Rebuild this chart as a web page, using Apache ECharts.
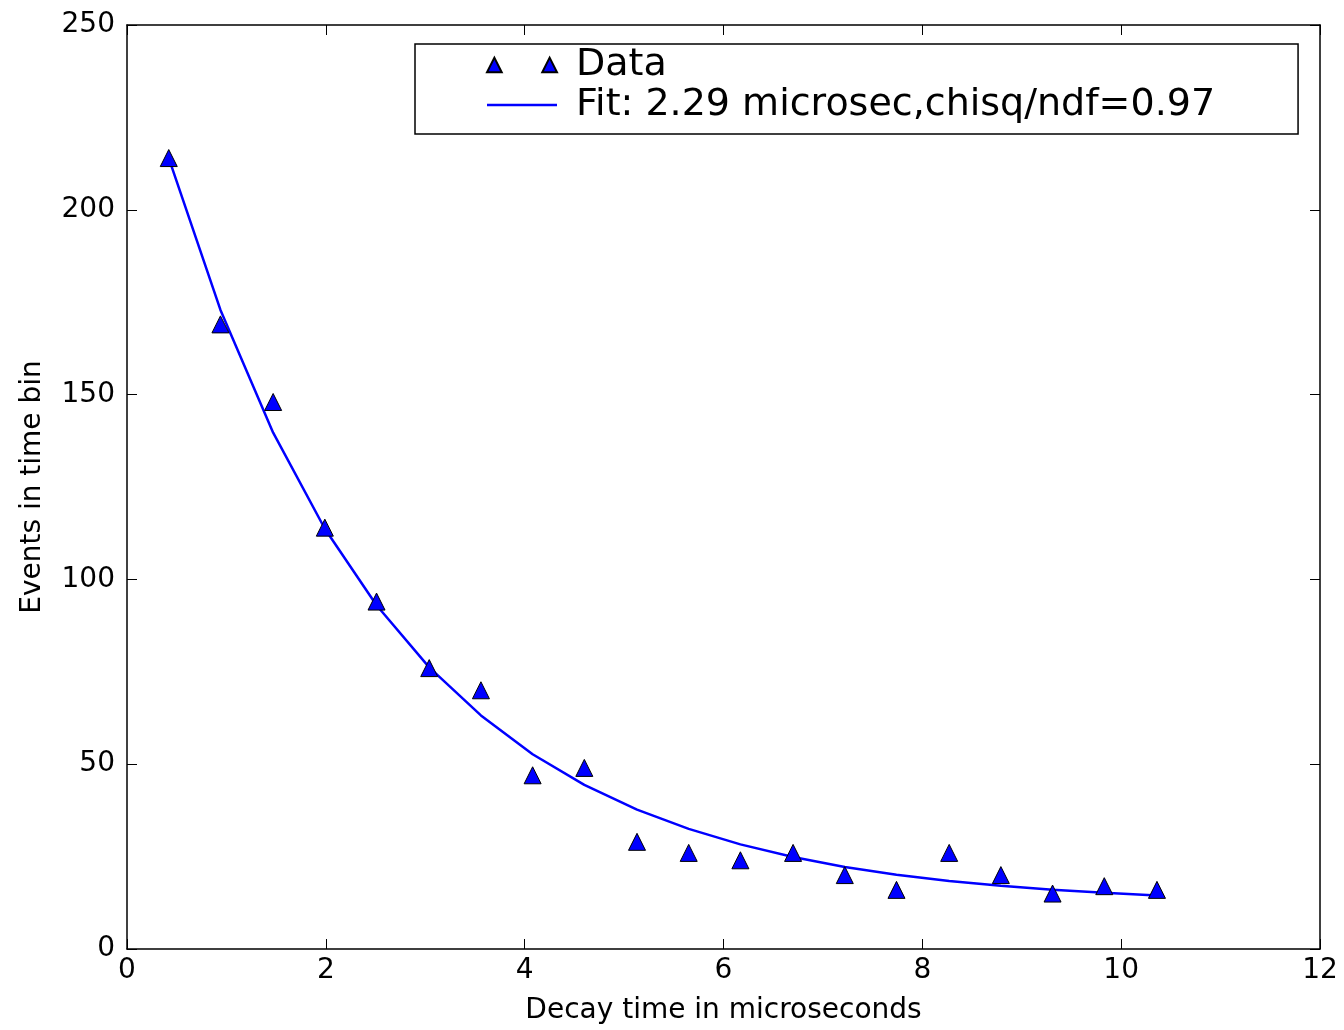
<!DOCTYPE html>
<html>
<head>
<meta charset="utf-8">
<script src="https://cdn.jsdelivr.net/npm/echarts@6/dist/echarts.min.js"></script>
<style>html,body{margin:0;padding:0;background:#fff;}#c{width:1344px;height:1030px;}</style>
</head>
<body>
<div id="c"></div>
<script>
// Bin centres (microseconds)
const decayTimes = [0.42, 0.94, 1.47, 1.99, 2.51, 3.04, 3.56, 4.08, 4.60, 5.13, 5.65, 6.17, 6.70, 7.22, 7.74, 8.27, 8.79, 9.31, 9.83, 10.36];
// Measured events per bin
const eventCounts = [214, 169, 148, 114, 94, 76, 70, 47, 49, 29, 26, 24, 26, 20, 16, 26, 20, 15, 17, 16];
// Fitted curve values read at the same bin centres
const fitValues = [214.0, 172.9, 139.7, 113.7, 93.0, 76.2, 63.2, 52.7, 44.4, 37.7, 32.5, 28.3, 24.9, 22.2, 20.1, 18.4, 17.1, 16.0, 15.2, 14.5];
const xTicks = [0, 2, 4, 6, 8, 10, 12];
const yTicks = [0, 50, 100, 150, 200, 250];
const dataLabel = 'Data';
const fitLabel = 'Fit: 2.29 microsec,chisq/ndf=0.97';

const font = 'DejaVu Sans';
const dataPairs = decayTimes.map((t, i) => [t, eventCounts[i]]);
const fitPairs = decayTimes.map((t, i) => [t, fitValues[i]]);

const axisLine = { show: true, onZero: false, lineStyle: { color: '#000', width: 1.5 } };
const tick = { show: true, inside: true, length: 10, lineStyle: { color: '#000', width: 1 } };

const chart = echarts.init(document.getElementById('c'), null, { renderer: 'canvas' });
chart.setOption({
  animation: false,
  backgroundColor: '#fff',
  grid: { left: 127, right: 24, top: 25, bottom: 81, containLabel: false },
  xAxis: [
    {
      type: 'value', min: xTicks[0], max: xTicks[xTicks.length - 1], interval: 2, position: 'bottom',
      name: 'Decay time in microseconds', nameLocation: 'middle', nameGap: 48,
      nameTextStyle: { fontFamily: font, fontSize: 28, color: '#000' },
      axisLine: axisLine, axisTick: tick, splitLine: { show: false },
      axisLabel: { fontFamily: font, fontSize: 28, color: '#000', margin: 8 }
    },
    {
      type: 'value', min: xTicks[0], max: xTicks[xTicks.length - 1], interval: 2, position: 'top',
      axisLine: axisLine, axisTick: tick, splitLine: { show: false }, axisLabel: { show: false }
    }
  ],
  yAxis: [
    {
      type: 'value', min: yTicks[0], max: yTicks[yTicks.length - 1], interval: 50, position: 'left',
      name: 'Events in time bin', nameLocation: 'middle', nameGap: 80, nameRotate: 90,
      nameTextStyle: { fontFamily: font, fontSize: 28, color: '#000' },
      axisLine: axisLine, axisTick: tick, splitLine: { show: false },
      axisLabel: { fontFamily: font, fontSize: 28, color: '#000', margin: 12 }
    },
    {
      type: 'value', min: yTicks[0], max: yTicks[yTicks.length - 1], interval: 50, position: 'right',
      axisLine: axisLine, axisTick: tick, splitLine: { show: false }, axisLabel: { show: false }
    }
  ],
  legend: {
    left: 415, top: 44, orient: 'vertical',
    backgroundColor: '#fff', borderColor: '#000', borderWidth: 1.5,
    padding: [2, 83, 10, 71], itemGap: 2,
    itemWidth: 70, itemHeight: 17,
    textStyle: { fontFamily: font, fontSize: 38, color: '#000', padding: [0, 0, 0, 14] },
    data: [
      { name: dataLabel, icon: 'path://M8,0 L16,16 L0,16 Z M68,0 L76,16 L60,16 Z' },
      { name: fitLabel, icon: 'path://M0,0 L70,0 L70,2.5 L0,2.5 Z' }
    ]
  },
  series: [
    {
      name: fitLabel, type: 'line', data: fitPairs, showSymbol: false, symbol: 'none',
      smooth: false, lineStyle: { color: '#0000ff', width: 2.5 }, itemStyle: { color: '#0000ff' }, z: 2
    },
    {
      name: dataLabel, type: 'scatter', data: dataPairs, symbol: 'triangle', symbolSize: 17,
      itemStyle: { color: '#0000ff', borderColor: '#000', borderWidth: 1, opacity: 1 }, z: 3
    }
  ]
});
</script>
</body>
</html>
